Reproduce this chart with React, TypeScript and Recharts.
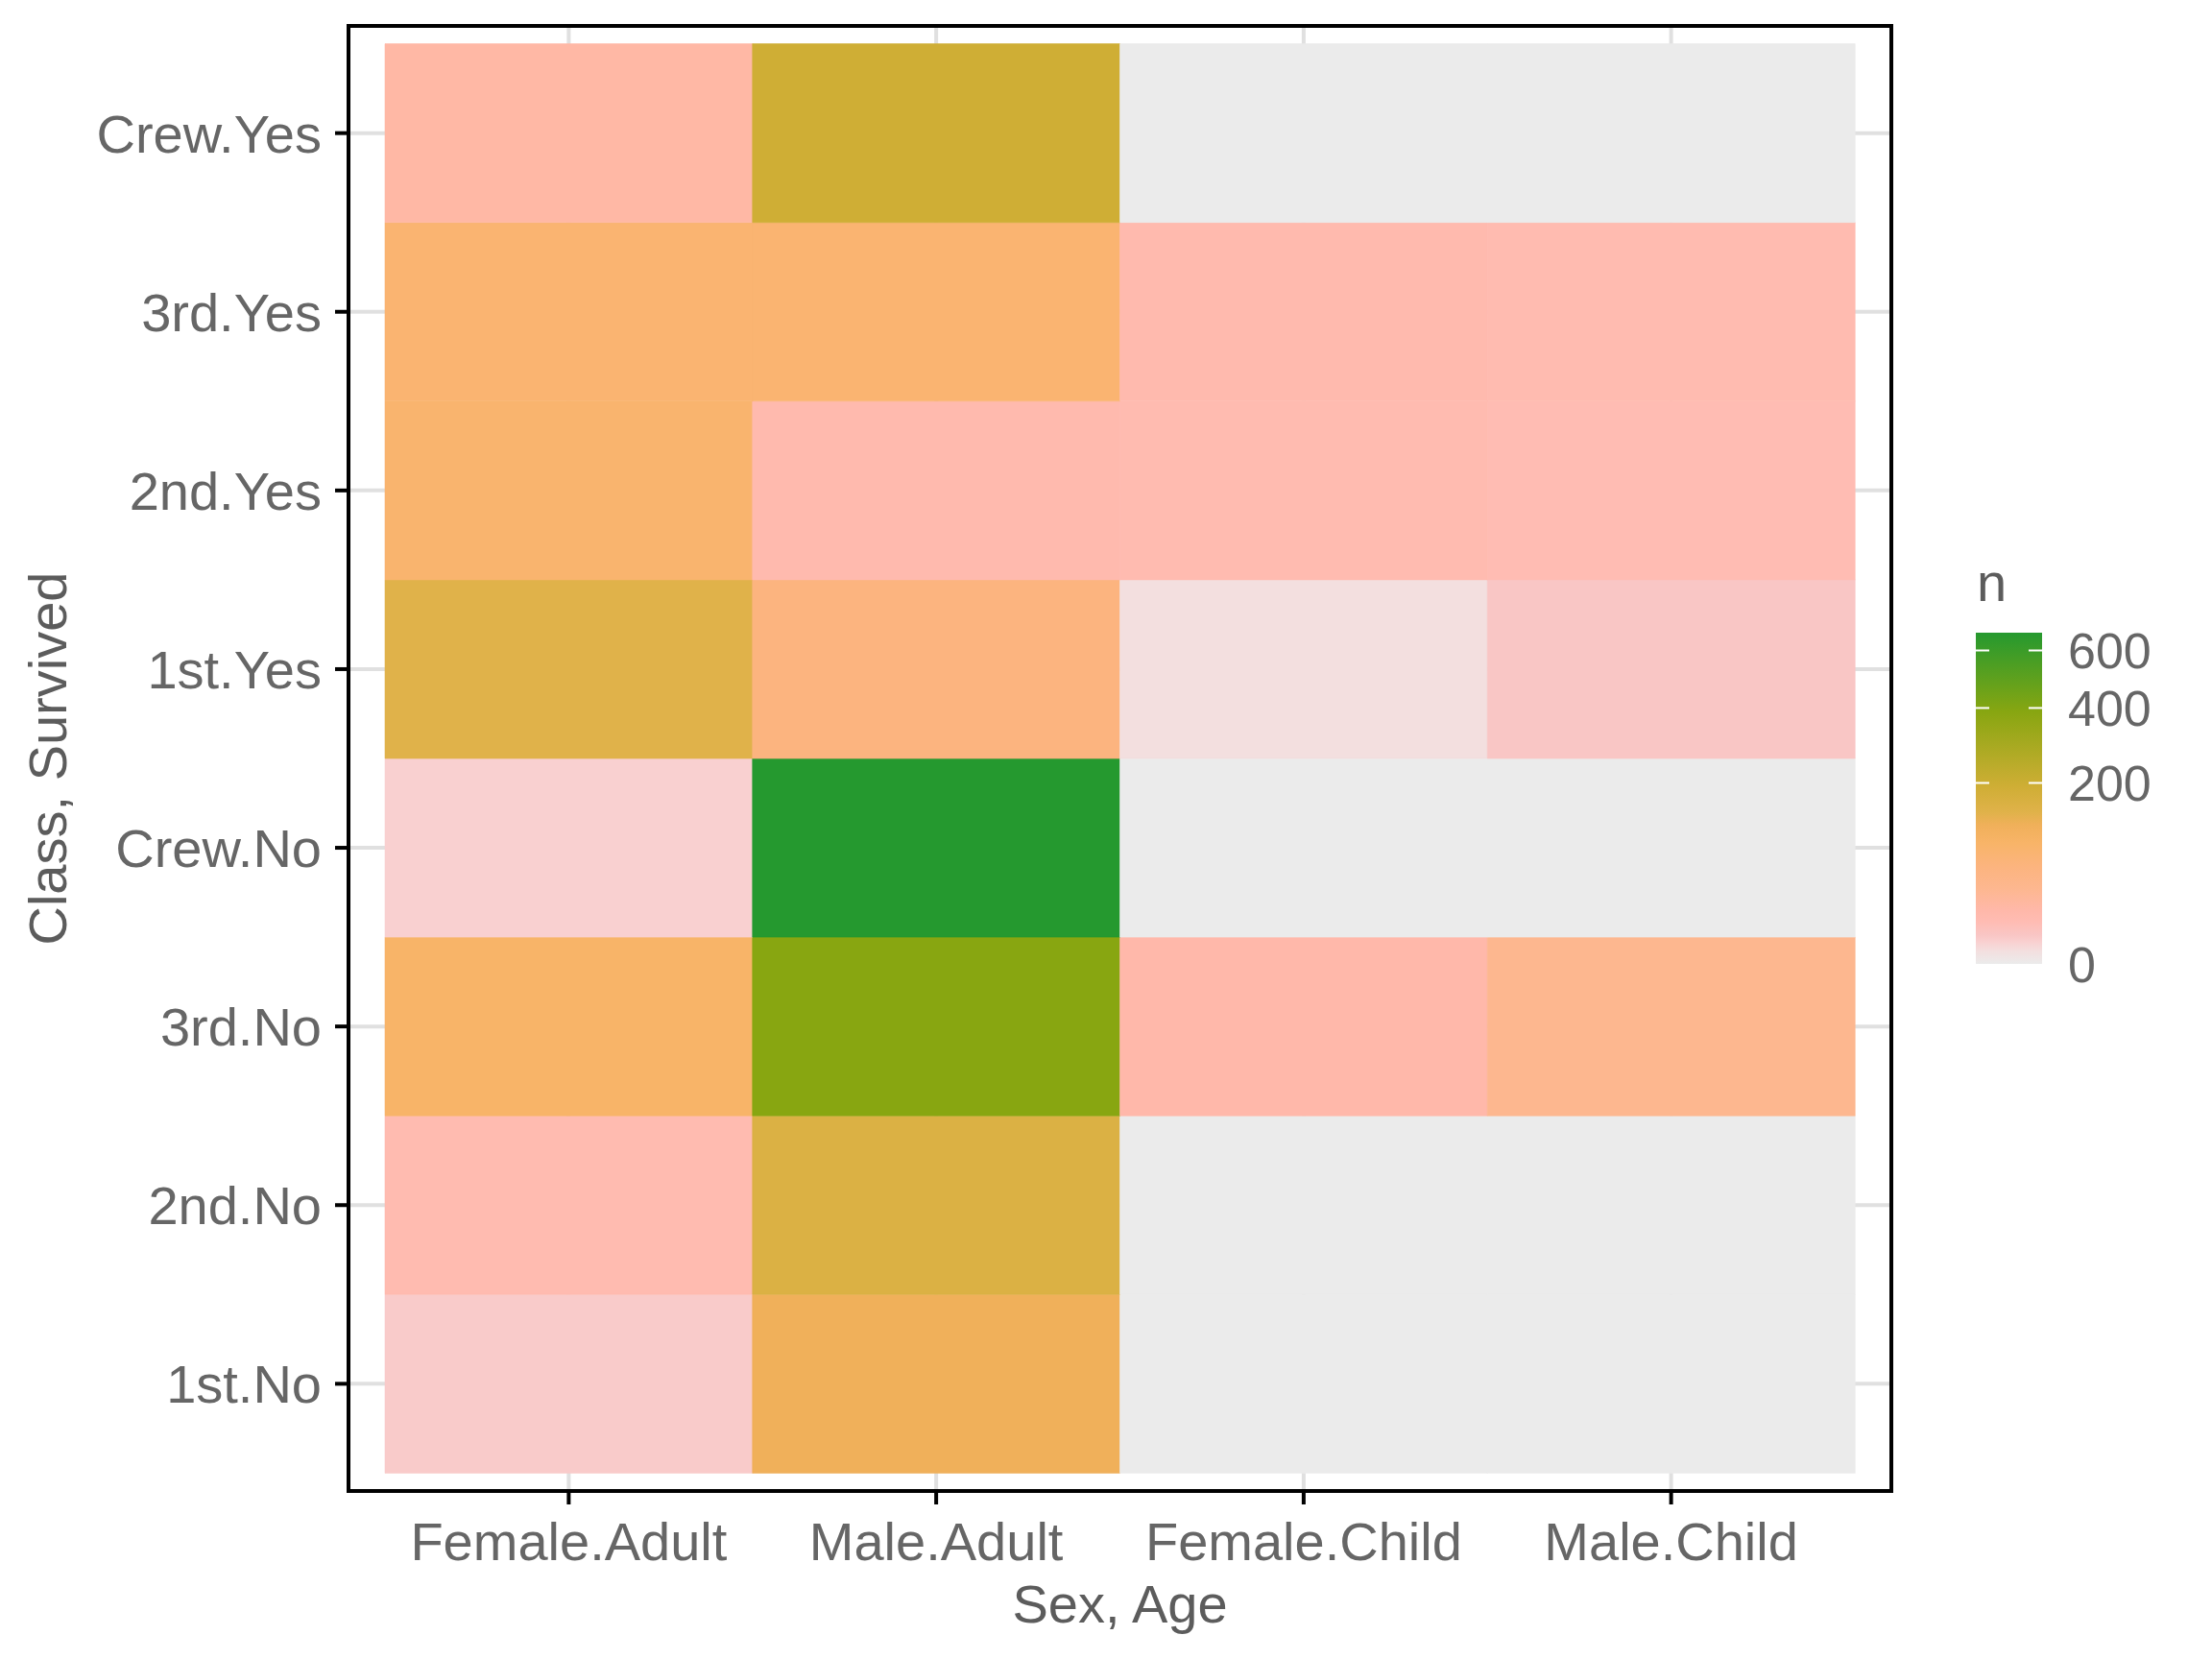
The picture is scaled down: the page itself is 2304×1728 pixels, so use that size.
import { Bar, BarChart, CartesianGrid, Cell, XAxis, YAxis } from "recharts";

// Titanic passenger counts, one array per Sex.Age column,
// ordered bottom -> top like the y axis
const ROWS = ["1st.No", "2nd.No", "3rd.No", "Crew.No", "1st.Yes", "2nd.Yes", "3rd.Yes", "Crew.Yes"];
const COLS = ["Female.Adult", "Male.Adult", "Female.Child", "Male.Child"];

const FEMALE_ADULT = [4, 13, 89, 3, 140, 80, 76, 20];
const MALE_ADULT = [118, 154, 387, 670, 57, 14, 75, 192];
const FEMALE_CHILD = [0, 0, 17, 0, 1, 13, 14, 0];
const MALE_CHILD = [0, 0, 35, 0, 5, 11, 13, 0];
const COUNTS = [FEMALE_ADULT, MALE_ADULT, FEMALE_CHILD, MALE_CHILD];

const LEGEND_BREAKS = [0, 200, 400, 600];

// fill scale (sqrt transformed), colour picked per count
const STOP_N = [0, 1, 3, 5, 11, 17, 35, 57, 89, 118, 140, 192, 387, 670];
const STOP_COLORS = [
  "#EBEBEB",
  "#F3DFDF",
  "#F9D0D0",
  "#F9C6C5",
  "#FFBCB3",
  "#FFB8AA",
  "#FDB78F",
  "#FCB47F",
  "#F8B468",
  "#F0B05A",
  "#E0B24A",
  "#CFAE35",
  "#88A611",
  "#25992F",
];

const FONT = '"Liberation Sans", Arial, Helvetica, sans-serif';
const TEXT = "#666666";
const TITLE = "#5c5c5c";

const W = 2304;
const H = 1728;
const MARGIN = { top: 27, right: 334, bottom: 0, left: 0 };
const X_AXIS_H = 175;
const Y_AXIS_W = 363;

const hex = (c: string) => [1, 3, 5].map((i) => parseInt(c.slice(i, i + 2), 16));

function colorFor(n: number) {
  const s = Math.sqrt(n);
  for (let i = 1; i < STOP_N.length; i++) {
    const a = Math.sqrt(STOP_N[i - 1]);
    const b = Math.sqrt(STOP_N[i]);
    if (s <= b) {
      const t = b === a ? 0 : (s - a) / (b - a);
      const c0 = hex(STOP_COLORS[i - 1]);
      const c1 = hex(STOP_COLORS[i]);
      const m = c0.map((v, k) => Math.round(v + (c1[k] - v) * t));
      return `rgb(${m.join(",")})`;
    }
  }
  return STOP_COLORS[STOP_COLORS.length - 1];
}

const data = COLS.map((group) => {
  const row: Record<string, string | number> = { group };
  ROWS.forEach((r) => (row[r] = 1));
  return row;
});

const yTicks = ROWS.map((_, i) => i + 0.5);

// panel frame + colourbar legend, drawn over the chart
function Overlay() {
  const max = Math.max(...COUNTS.flat());
  const x = 2058;
  const w = 69;
  const top = 659;
  const bottom = 1004;
  const yOf = (v: number) => bottom - Math.sqrt(v / max) * (bottom - top);
  const pl = MARGIN.left + Y_AXIS_W;
  const pt = MARGIN.top;
  const pr = W - MARGIN.right;
  const pb = H - MARGIN.bottom - X_AXIS_H;
  return (
    <svg width={W} height={H} style={{ position: "absolute", left: 0, top: 0, pointerEvents: "none" }}>
      <defs>
        <linearGradient id="nfill" x1="0" y1="1" x2="0" y2="0">
          {STOP_N.map((n, i) => (
            <stop key={n} offset={Math.sqrt(n / max)} stopColor={STOP_COLORS[i]} />
          ))}
        </linearGradient>
      </defs>
      <rect x={pl} y={pt} width={pr - pl} height={pb - pt} fill="none" stroke="#000" strokeWidth={4} />
      <text x={2059} y={626} fontSize={56} fill={TITLE} fontFamily={FONT}>
        n
      </text>
      <rect x={x} y={top} width={w} height={bottom - top} fill="url(#nfill)" />
      {LEGEND_BREAKS.filter((b) => b > 0).map((b) => (
        <g key={b} stroke="#fff" strokeWidth={2}>
          <line x1={x} x2={x + 14} y1={yOf(b)} y2={yOf(b)} />
          <line x1={x + w - 14} x2={x + w} y1={yOf(b)} y2={yOf(b)} />
        </g>
      ))}
      {LEGEND_BREAKS.map((b) => (
        <text key={b} x={2154} y={yOf(b)} dy="0.36em" fontSize={52} fill={TEXT} fontFamily={FONT}>
          {b}
        </text>
      ))}
    </svg>
  );
}

export default function App() {
  return (
    <div style={{ position: "absolute", left: 0, top: 0, width: W, height: H, background: "#fff" }}>
      <BarChart
        width={W}
        height={H}
        data={data}
        barCategoryGap={0}
        barGap={0}
        margin={MARGIN}
        style={{ fontFamily: FONT }}
      >
        <CartesianGrid stroke="#E0E0E0" strokeWidth={4} />
        <XAxis
          dataKey="group"
          type="category"
          height={X_AXIS_H}
          padding={{ left: 38, right: 38 }}
          tickSize={14}
          tickMargin={18}
          tickLine={{ stroke: "#000", strokeWidth: 4 }}
          axisLine={{ stroke: "#000", strokeWidth: 4 }}
          tick={{ fontSize: 56, fill: TEXT }}
          label={{
            value: "Sex, Age",
            position: "insideBottom",
            offset: 38,
            style: { fontSize: 56, fill: TITLE },
          }}
        />
        <YAxis
          type="number"
          domain={[-0.1, ROWS.length + 0.1]}
          ticks={yTicks}
          interval={0}
          allowDataOverflow
          width={Y_AXIS_W}
          tickSize={14}
          tickMargin={14}
          tickFormatter={(v: number) => ROWS[Math.round(v - 0.5)]}
          tickLine={{ stroke: "#000", strokeWidth: 4 }}
          axisLine={{ stroke: "#000", strokeWidth: 4 }}
          tick={{ fontSize: 56, fill: TEXT }}
          label={{
            value: "Class, Survived",
            angle: -90,
            position: "insideLeft",
            offset: 49,
            style: { fontSize: 56, fill: TITLE, textAnchor: "middle" },
          }}
        />
        {ROWS.map((r, ri) => (
          <Bar key={r} dataKey={r} stackId="tiles" isAnimationActive={false}>
            {COLS.map((c, ci) => {
              const fill = colorFor(COUNTS[ci][ri]);
              return <Cell key={c} fill={fill} stroke={fill} strokeWidth={0.6} />;
            })}
          </Bar>
        ))}
      </BarChart>
      <Overlay />
    </div>
  );
}
